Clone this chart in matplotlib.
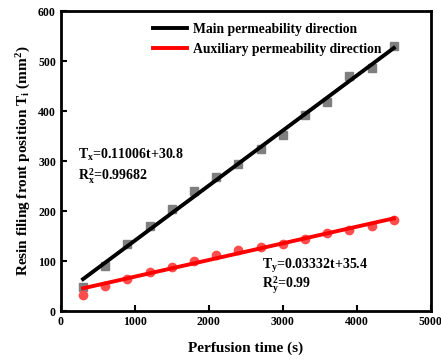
import numpy as np
import matplotlib.pyplot as plt

plt.rcParams['font.family'] = 'Liberation Serif'
plt.rcParams['font.weight'] = 'bold'
plt.rcParams['mathtext.fontset'] = 'custom'
plt.rcParams['mathtext.rm'] = 'Liberation Serif:bold'
plt.rcParams['mathtext.it'] = 'Liberation Serif:bold'
plt.rcParams['mathtext.bf'] = 'Liberation Serif:bold'

t = [300, 600, 900, 1200, 1500, 1800, 2100, 2400, 2700, 3000, 3300, 3600, 3900, 4200, 4500]
main = [49, 90, 135, 170, 205, 240, 268, 294, 325, 353, 392, 418, 470, 486, 530]
aux = [32, 50, 64, 79, 89, 100, 112, 122, 129, 135, 145, 157, 163, 170, 183]

# fitted lines (from equations shown on chart)
fit_main = [0.11006, 30.8]
fit_aux = [0.03332, 35.4]
t_fit = [300, 4500]

fig = plt.figure(figsize=(4.41, 3.61), dpi=100)
ax = fig.add_axes([0.138, 0.1385, 0.839, 0.831])

ax.plot(t, main, 's', color='#7f7f7f', ms=5.5, zorder=2)
ax.plot(t, aux, 'o', color='#ff4d4d', ms=6, zorder=2)
tf = np.array(t_fit)
ax.plot(tf, fit_main[0]*tf + fit_main[1], color='black', lw=2.8,
        label='Main permeability direction', zorder=3)
ax.plot(tf, fit_aux[0]*tf + fit_aux[1], color='red', lw=2.8,
        label='Auxiliary permeability direction', zorder=3)

ax.text(230, 304, r'T$_\mathregular{x}$=0.11006t+30.8', fontsize=10)
ax.text(230, 262, r'R$^\mathregular{2}_\mathregular{x}$=0.99682', fontsize=10)
ax.text(2720, 84, r'T$_\mathregular{y}$=0.03332t+35.4', fontsize=10)
ax.text(2720, 46, r'R$^\mathregular{2}_\mathregular{y}$=0.99', fontsize=10)

ax.set_xlim(0, 5000)
ax.set_ylim(0, 600)
ax.set_xticks([0, 1000, 2000, 3000, 4000, 5000])
ax.set_yticks([0, 100, 200, 300, 400, 500, 600])
ax.tick_params(direction='in', width=1.5, length=4, labelsize=8.5)
for s in ax.spines.values():
    s.set_linewidth(2)

ax.set_xlabel('Perfusion time (s)', fontsize=11, fontweight='bold', labelpad=10)
ax.set_ylabel(r'Resin filing front position T$_\mathregular{i}$ (mm$^\mathregular{2}$)',
              fontsize=11, fontweight='bold')

ax.legend(loc='upper left', bbox_to_anchor=(0.215, 1.0), frameon=False,
          fontsize=9.8, handlelength=2.5, handletextpad=0.5, labelspacing=0.5)

plt.savefig('out.png', dpi=100)
